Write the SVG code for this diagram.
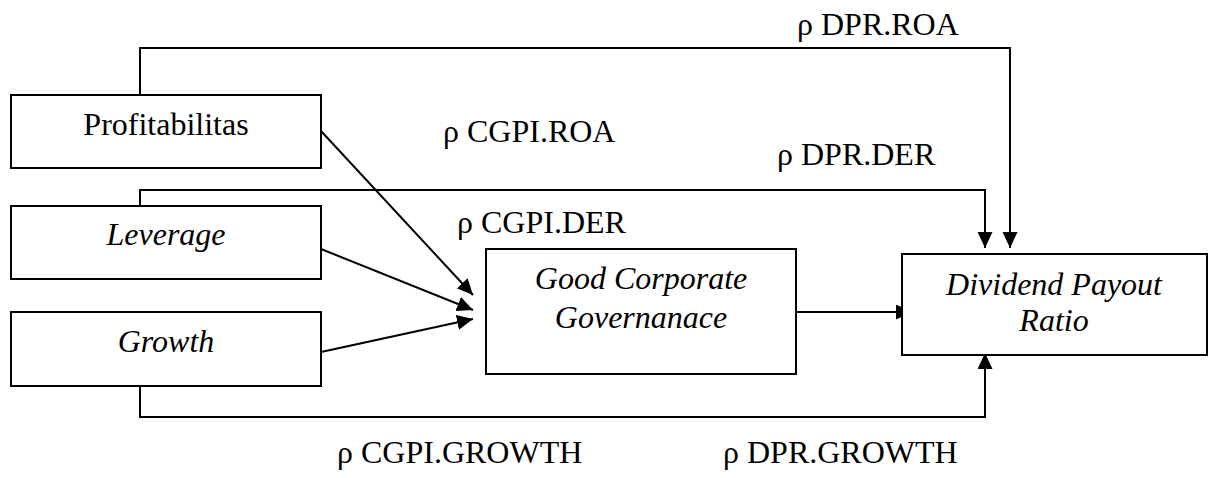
<svg xmlns="http://www.w3.org/2000/svg" width="1214" height="478" viewBox="0 0 1214 478">
<style>
.box{fill:#fff;stroke:#000;stroke-width:2}
.t{font-family:"Liberation Serif","Times New Roman",serif;font-size:32px;fill:#000}
.i{font-style:italic}
.c{text-anchor:middle}
.ln{fill:none;stroke:#000;stroke-width:2}
</style>
<defs>
<marker id="ah" markerUnits="userSpaceOnUse" markerWidth="17" markerHeight="16" refX="16" refY="7.5" orient="auto">
<path d="M0,0 L16,7.5 L0,15 z" fill="#000"/>
</marker>
</defs>
<rect width="1214" height="478" fill="#fff"/>
<g id="connectors">
<polyline class="ln" points="140,95 140,48 1010,48 1010,248" marker-end="url(#ah)"/>
<polyline class="ln" points="140,206 140,190 985,190 985,248" marker-end="url(#ah)"/>
<polyline class="ln" points="140,386 140,417 985,417 985,353" marker-end="url(#ah)"/>
<line class="ln" x1="321" y1="131" x2="473" y2="295" marker-end="url(#ah)"/>
<line class="ln" x1="321" y1="249" x2="473" y2="310" marker-end="url(#ah)"/>
<line class="ln" x1="321" y1="352" x2="473" y2="319" marker-end="url(#ah)"/>
<line class="ln" x1="796" y1="312" x2="912" y2="312" marker-end="url(#ah)"/>
</g>
<g id="labels">
<text class="t" x="797" y="35">ρ DPR.ROA</text>
<text class="t" x="443" y="142">ρ CGPI.ROA</text>
<text class="t" x="777" y="165">ρ DPR.DER</text>
<text class="t" x="457" y="233">ρ CGPI.DER</text>
<text class="t" x="337" y="463">ρ CGPI.GROWTH</text>
<text class="t" x="723" y="463">ρ DPR.GROWTH</text>
</g>
<g id="profitabilitas">
<rect class="box" x="11" y="95" width="310" height="73"/>
<text class="t c" x="166" y="135">Profitabilitas</text>
</g>
<g id="leverage">
<rect class="box" x="11" y="206" width="310" height="73"/>
<text class="t i c" x="166" y="245">Leverage</text>
</g>
<g id="growth">
<rect class="box" x="11" y="312" width="310" height="74"/>
<text class="t i c" x="166" y="352">Growth</text>
</g>
<g id="gcg">
<rect class="box" x="486" y="249" width="310" height="125"/>
<text class="t i c" x="641" y="289">Good Corporate</text>
<text class="t i c" x="641" y="328">Governanace</text>
</g>
<g id="dpr">
<rect class="box" x="902" y="254" width="305" height="101"/>
<text class="t i c" x="1054" y="295">Dividend Payout</text>
<text class="t i c" x="1054" y="331">Ratio</text>
</g>
</svg>
